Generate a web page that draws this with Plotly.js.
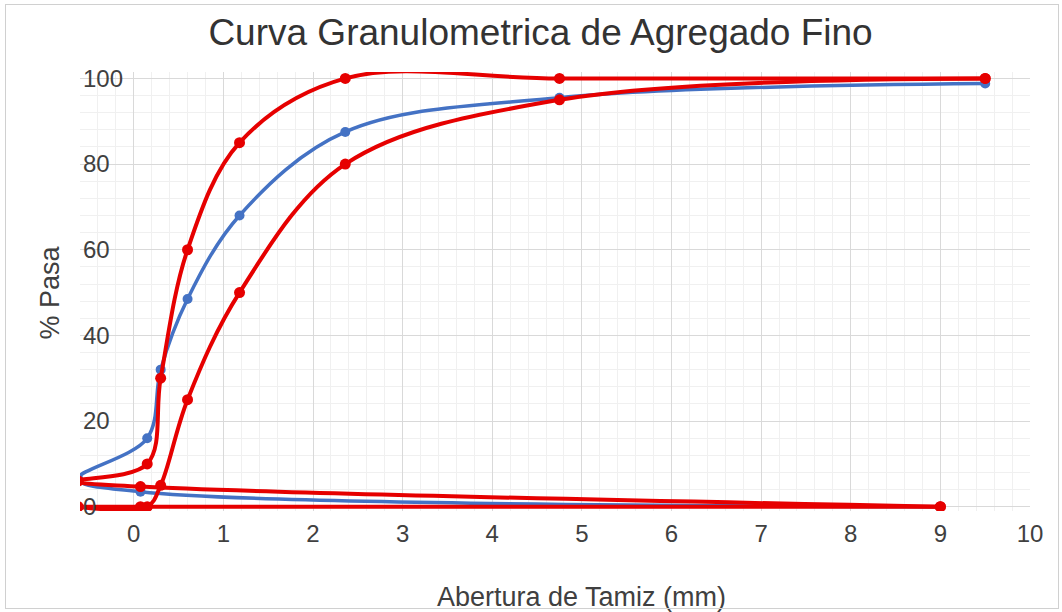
<!DOCTYPE html>
<html>
<head>
<meta charset="utf-8">
<script src="https://cdn.plot.ly/plotly-3.0.1.min.js"></script>
<style>
  html, body { margin: 0; padding: 0; background: #ffffff; }
  #wrap { position: relative; width: 1062px; height: 612px; }
  #chart { width: 1062px; height: 612px; }
  #frame { position: absolute; left: 5px; top: 4px; width: 1052px; height: 603px;
           border: 1px solid #d0d0d0; pointer-events: none; }
</style>
</head>
<body>
<div id="wrap">
  <div id="chart"></div>
  <div id="frame"></div>
</div>
<script>
// Sieve openings (mm) and % passing
const sieveMm   = [9.5, 4.75, 2.36, 1.18, 0.6, 0.3, 0.15];
const muestra   = [98.8, 95.5, 87.5, 68, 48.5, 32, 16];
const limiteSup = [100, 100, 100, 85, 60, 30, 10];
const limiteInf = [100, 95, 80, 50, 25, 5, 0];

// Trailing rows of the source sheet (pan / No.200 rows) as they appear in the plot
const tailX       = [-0.62, 0.075, 9];
const muestraTail = [6.5, 3.5, 0];
const supTail     = [6, 4.7, 0];
const infTail     = [0, 0, 0];

const xTicks = [0, 1, 2, 3, 4, 5, 6, 7, 8, 9, 10];
const yTicks = [0, 20, 40, 60, 80, 100];

const RED = '#e60000';
const BLUE = '#4472c4';
const FONT = '"Liberation Sans", Arial, sans-serif';

function series(y, tail, color, lw, ms) {
  return {
    type: 'scatter',
    mode: 'lines+markers',
    x: sieveMm.concat(tailX),
    y: y.concat(tail),
    line: { color: color, width: lw, shape: 'spline', smoothing: 1 },
    marker: { color: color, size: ms, symbol: 'circle' },
    showlegend: false,
    hoverinfo: 'x+y'
  };
}

const data = [
  series(muestra, muestraTail, BLUE, 3.5, 10),
  series(limiteInf, infTail, RED, 4, 11),
  series(limiteSup, supTail, RED, 4, 11)
];

const layout = {
  width: 1062,
  height: 612,
  margin: { l: 80, r: 32, t: 72, b: 101, pad: 0 },
  paper_bgcolor: '#ffffff',
  plot_bgcolor: '#ffffff',
  font: { family: FONT, color: '#404040', size: 24 },
  title: {
    text: 'Curva Granulometrica de Agregado Fino',
    font: { family: FONT, size: 37, color: '#333333' },
    x: 0.509, xref: 'container', xanchor: 'center',
    y: 1 - 32 / 612, yref: 'container', yanchor: 'middle'
  },
  xaxis: {
    range: [-0.6, 10],
    tickvals: xTicks,
    ticktext: xTicks.map(String),
    showgrid: true,
    gridcolor: '#d9d9d9',
    gridwidth: 1,
    zeroline: false,
    showline: false,
    ticks: '',
    ticklabelstandoff: 6,
    tickfont: { size: 24, color: '#404040' },
    minor: { dtick: 0.2, showgrid: true, gridcolor: '#f0f0f0', gridwidth: 1 },
    fixedrange: true
  },
  yaxis: {
    range: [-1, 101.5],
    tickvals: yTicks,
    ticktext: yTicks.map(String),
    showgrid: true,
    gridcolor: '#d9d9d9',
    gridwidth: 1,
    zeroline: false,
    showline: false,
    ticks: '',
    ticklabelposition: 'inside',
    ticklabeloverflow: 'allow',
    tickfont: { size: 24, color: '#404040' },
    minor: { dtick: 4, showgrid: true, gridcolor: '#f0f0f0', gridwidth: 1 },
    fixedrange: true
  },
  annotations: [
    {
      text: 'Abertura de Tamiz (mm)',
      xref: 'x', x: 5, yref: 'paper', y: (511 - 597) / 439,
      xanchor: 'center', yanchor: 'middle', showarrow: false,
      font: { family: FONT, size: 27, color: '#404040' }
    },
    {
      text: '% Pasa',
      xref: 'paper', x: (50 - 80) / 950, yref: 'y', y: 50,
      xanchor: 'center', yanchor: 'middle', showarrow: false, textangle: -90,
      font: { family: FONT, size: 27, color: '#404040' }
    }
  ]
};

Plotly.newPlot('chart', data, layout, { displayModeBar: false, staticPlot: true });
</script>
</body>
</html>
